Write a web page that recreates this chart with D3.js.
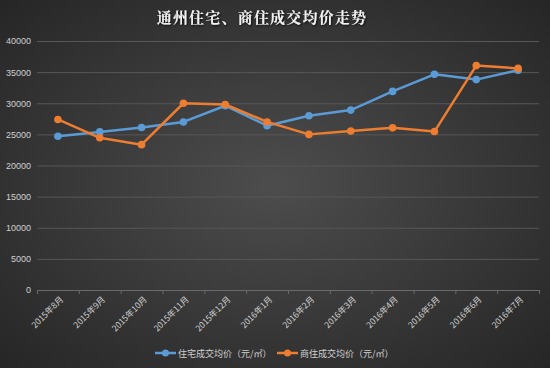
<!DOCTYPE html>
<html><head><meta charset="utf-8">
<script src="https://cdn.jsdelivr.net/npm/d3@7"></script>
<style>body{margin:0;background:#333;}svg{display:block;}</style>
</head><body>
<svg id="c" width="550" height="368"></svg>
<script>
const categories = ["2015年8月","2015年9月","2015年10月","2015年11月","2015年12月","2016年1月","2016年2月","2016年3月","2016年4月","2016年5月","2016年6月","2016年7月"];
const residential = [24700,25400,26100,27000,29600,26400,28000,28900,31900,34650,33800,35300];
const commercial = [27400,24450,23350,30000,29800,27000,25000,25550,26050,25450,36050,35600];
const yTicks = [0,5000,10000,15000,20000,25000,30000,35000,40000];
const seriesNames = ["住宅成交均价（元/㎡）","商住成交均价（元/㎡）"];
const colors = ["#5b9bd5","#ed7d31"];

const svg = d3.select("#c");
const defs = svg.append("defs");
const rg = defs.append("radialGradient").attr("id","bg").attr("cx","50%").attr("cy","50%").attr("r","70%");
rg.append("stop").attr("offset","0%").attr("stop-color","#4d4d4d");
rg.append("stop").attr("offset","100%").attr("stop-color","#262626");
const f = defs.append("filter").attr("id","sh").attr("x","-10%").attr("y","-30%").attr("width","120%").attr("height","160%");
f.append("feDropShadow").attr("dx",1).attr("dy",1).attr("stdDeviation",1).attr("flood-color","#000").attr("flood-opacity",0.8);

svg.append("rect").attr("width",550).attr("height",368).attr("fill","url(#bg)");

const m = {l:37, r:539, t:41, b:290};
const x = d3.scaleBand().domain(categories).range([m.l, m.r]);
const y = d3.scaleLinear().domain([0,40000]).range([m.b, m.t]);

svg.append("text").attr("x",262).attr("y",23).attr("text-anchor","middle")
  .attr("fill","#f2f2f2").attr("font-size",15).attr("font-weight","bold")
  .attr("font-family","'Noto Serif CJK SC','Noto Sans CJK SC',serif").attr("letter-spacing",1.2)
  .attr("filter","url(#sh)").text("通州住宅、商住成交均价走势");

// gridlines
svg.append("g").selectAll("line").data(yTicks.filter(d=>d>0)).join("line")
  .attr("x1",m.l).attr("x2",m.r).attr("y1",d=>y(d)+0.5).attr("y2",d=>y(d)+0.5)
  .attr("stroke","#575757").attr("stroke-width",1);

// y axis labels
const ya = svg.append("g").attr("transform",`translate(${m.l},0)`)
  .call(d3.axisLeft(y).tickValues(yTicks).tickFormat(d3.format("d")).tickSize(0).tickPadding(6));
ya.select(".domain").remove();
ya.selectAll("text").attr("fill","#d0d0d0").attr("font-size",9).attr("font-family","'Liberation Sans',Arial,sans-serif");

// x axis
const xa = svg.append("g").attr("transform",`translate(0,${m.b})`)
  .call(d3.axisBottom(x).tickSize(0).tickPadding(0));
xa.select(".domain").attr("stroke","#6a6a6a").attr("d",`M${m.l+0.5},0.5H${m.r+0.5}`);
xa.selectAll("text").attr("fill","#d0d0d0").attr("font-size",8.5)
  .attr("font-family","'Noto Sans CJK SC',sans-serif")
  .attr("text-anchor","end").attr("dy",0)
  .attr("transform","translate(6,10) rotate(-45)");
// category boundary ticks
const bounds = categories.map(c=>x(c)).concat([m.r]);
svg.append("g").selectAll("line").data(bounds).join("line")
  .attr("x1",d=>d+0.5).attr("x2",d=>d+0.5).attr("y1",m.b).attr("y2",m.b+4)
  .attr("stroke","#6a6a6a");

const cx = c => x(c) + x.bandwidth()/2;
const line = d3.line().x((d,i)=>cx(categories[i])).y(d=>y(d));
[residential, commercial].forEach((data,k)=>{
  const g = svg.append("g");
  g.append("path").datum(data).attr("d",line).attr("fill","none")
    .attr("stroke",colors[k]).attr("stroke-width",2.5).attr("stroke-linejoin","round");
  g.selectAll("circle").data(data).join("circle")
    .attr("cx",(d,i)=>cx(categories[i])).attr("cy",d=>y(d)).attr("r",3.8).attr("fill",colors[k]);
});

// legend
const leg = svg.append("g");
const items = [{x:155},{x:277}];
items.forEach((it,k)=>{
  const g = leg.append("g").attr("transform",`translate(${it.x},353)`);
  g.append("line").attr("x1",0).attr("x2",21).attr("stroke",colors[k]).attr("stroke-width",2.5);
  g.append("circle").attr("cx",10.5).attr("r",3.5).attr("fill",colors[k]);
  g.append("text").attr("x",23).attr("y",3.5).attr("fill","#d0d0d0").attr("font-size",9)
    .attr("font-family","'Noto Sans CJK SC',sans-serif").text(seriesNames[k]);
});
</script>
</body></html>
